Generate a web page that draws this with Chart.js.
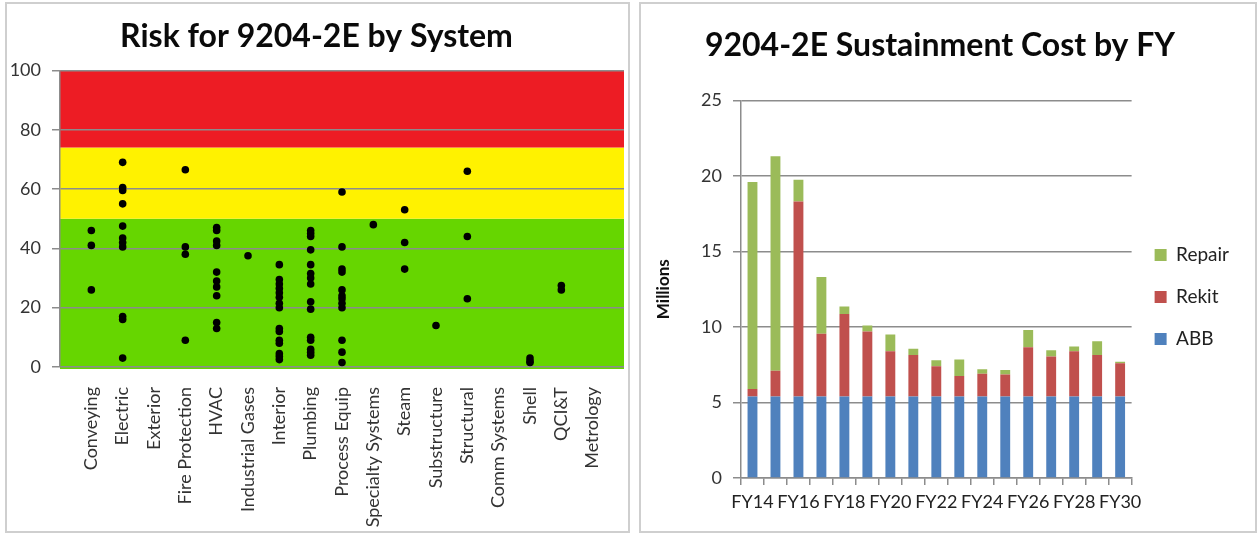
<!DOCTYPE html>
<html>
<head>
<meta charset="utf-8">
<script src="https://cdn.jsdelivr.net/npm/chart.js@4/dist/chart.umd.min.js"></script>
<style>
  body { margin: 0; background: #fff; }
  .panel { position: absolute; border: 2px solid #cfcfcf; box-sizing: border-box; background: #fff; }
  #left { left: 5px; top: 2px; width: 625px; height: 531px; }
  #right { left: 639px; top: 2px; width: 618px; height: 531px; }
</style>
</head>
<body>
<div class="panel" id="left"><canvas id="riskChart"></canvas></div>
<div class="panel" id="right"><canvas id="costChart"></canvas></div>
<script>
// ---- risk chart data ----
const systems = ['Conveying', 'Electric', 'Exterior', 'Fire Protection', 'HVAC', 'Industrial Gases',
  'Interior', 'Plumbing', 'Process Equip', 'Specialty Systems', 'Steam', 'Substructure',
  'Structural', 'Comm Systems', 'Shell', 'QCI&T', 'Metrology'];

const conveying = [46, 41, 26];
const electric = [69, 60.5, 59.5, 55, 47.5, 43.5, 42, 40.5, 17, 16, 3];
const exterior = [];
const fireProtection = [66.5, 40.5, 38, 9];
const hvac = [47, 46, 42.5, 41, 32, 29, 27, 24, 15, 13];
const industrialGases = [37.5];
const interior = [34.5, 29.5, 28, 26.5, 25, 23.5, 21.5, 20, 13, 12, 9, 8, 4.5, 3.5, 2.5];
const plumbing = [46, 45, 44, 39.5, 34.5, 31.5, 30, 28, 22, 19.5, 10, 9, 6, 5, 4];
const processEquip = [59, 40.5, 33, 32, 26, 24, 23, 21.5, 20, 9, 5, 1.5];
const specialtySystems = [48];
const steam = [53, 42, 33];
const substructure = [14];
const structural = [66, 44, 23];
const commSystems = [];
const shell = [3, 2, 1.5];
const qcit = [27.5, 26];
const metrology = [];

const riskValues = [conveying, electric, exterior, fireProtection, hvac, industrialGases, interior,
  plumbing, processEquip, specialtySystems, steam, substructure, structural, commSystems, shell, qcit, metrology];

const riskTicks = [0, 20, 40, 60, 80, 100];
const bandEdges = [0, 50, 74, 100];
const bandColors = ['#66d600', '#fff200', '#ed1c24'];

// ---- cost chart data ----
const fiscalYears = ['FY14', 'FY15', 'FY16', 'FY17', 'FY18', 'FY19', 'FY20', 'FY21', 'FY22',
  'FY23', 'FY24', 'FY25', 'FY26', 'FY27', 'FY28', 'FY29', 'FY30'];
const abb = [5.4, 5.4, 5.4, 5.4, 5.4, 5.4, 5.4, 5.4, 5.4, 5.4, 5.4, 5.4, 5.4, 5.4, 5.4, 5.4, 5.4];
const rekit = [0.5, 1.7, 12.9, 4.15, 5.45, 4.3, 3.0, 2.75, 2.0, 1.35, 1.5, 1.45, 3.25, 2.65, 3.0, 2.75, 2.2];
const repair = [13.7, 14.2, 1.45, 3.75, 0.5, 0.4, 1.1, 0.4, 0.4, 1.1, 0.3, 0.3, 1.15, 0.4, 0.3, 0.9, 0.1];

const FONT = 'Lato, "Open Sans", sans-serif';

// build scatter points, category n sits at x = n + 1
let riskPoints = [];
for (let i = 0; i < riskValues.length; i++) {
  for (let j = 0; j < riskValues[i].length; j++) {
    riskPoints.push({ x: i + 1, y: riskValues[i][j] });
  }
}

// paint the red / yellow / green zones behind the grid
const bandPlugin = {
  id: 'bands',
  beforeDraw(chart) {
    const ctx = chart.ctx;
    const area = chart.chartArea;
    const y = chart.scales.y;
    ctx.save();
    for (let i = 0; i < bandColors.length; i++) {
      const top = y.getPixelForValue(bandEdges[i + 1]);
      const bottom = y.getPixelForValue(bandEdges[i]);
      ctx.fillStyle = bandColors[i];
      ctx.fillRect(area.left, top, area.right - area.left, bottom - top + (i === 0 ? 2 : 0));
    }
    ctx.restore();
  }
};

new Chart(document.getElementById('riskChart'), {
  type: 'scatter',
  data: {
    datasets: [{
      label: 'Risk',
      data: riskPoints,
      backgroundColor: '#000',
      borderWidth: 0,
      pointRadius: 3.8
    }]
  },
  options: {
    responsive: true,
    maintainAspectRatio: false,
    animation: false,
    layout: { padding: { left: 0, right: 2, top: 0, bottom: 0 } },
    plugins: {
      legend: { display: false },
      tooltip: { enabled: false },
      title: {
        display: true,
        text: 'Risk for 9204-2E by System',
        color: '#0a0a0a',
        font: { family: FONT, size: 32, weight: 'bold' },
        padding: { top: 13, bottom: 15 }
      }
    },
    scales: {
      x: {
        type: 'linear',
        min: 0,
        max: systems.length + 1,
        afterBuildTicks: s => { s.ticks = []; for (let i = 0; i <= systems.length + 1; i++) s.ticks.push({ value: i }); },
        afterFit: s => { s.height = 164; s.paddingLeft = 0; s.paddingRight = 0; },
        grid: { display: false },
        border: { display: false },
        ticks: {
          autoSkip: false,
          maxRotation: 90,
          minRotation: 90,
          padding: 12,
          color: '#333',
          font: { family: FONT, size: 18 },
          callback: v => systems[v - 1] || ''
        }
      },
      y: {
        min: 0,
        max: 100,
        afterBuildTicks: s => { s.ticks = riskTicks.map(v => ({ value: v })); },
        afterFit: s => { s.width = 53; },
        grid: { color: '#8c8c8c', lineWidth: 1.5, tickLength: 8 },
        border: { color: '#8c8c8c', width: 1.5 },
        ticks: { color: '#333', padding: 11, font: { family: FONT, size: 18 } }
      }
    }
  },
  plugins: [bandPlugin]
});

new Chart(document.getElementById('costChart'), {
  type: 'bar',
  data: {
    labels: fiscalYears,
    datasets: [
      { label: 'ABB', data: abb, backgroundColor: '#4f81bd' },
      { label: 'Rekit', data: rekit, backgroundColor: '#c0504d' },
      { label: 'Repair', data: repair, backgroundColor: '#9bbb59' }
    ]
  },
  options: {
    responsive: true,
    maintainAspectRatio: false,
    animation: false,
    datasets: { bar: { categoryPercentage: 1, barPercentage: 0.43 } },
    layout: { padding: { left: 0, right: 16, top: 0, bottom: 0 } },
    plugins: {
      tooltip: { enabled: false },
      title: {
        display: true,
        text: '9204-2E Sustainment Cost by FY',
        color: '#0a0a0a',
        font: { family: FONT, size: 32, weight: 'bold' },
        padding: { top: 22, bottom: 36 }
      },
      legend: {
        position: 'right',
        reverse: true,
        title: { display: true, text: '', font: { size: 1 }, padding: 29 },
        labels: {
          boxWidth: 12,
          boxHeight: 12,
          padding: 23,
          color: '#222',
          font: { family: FONT, size: 19 }
        }
      }
    },
    scales: {
      x: {
        stacked: true,
        afterFit: s => { s.height = 53; },
        grid: { drawOnChartArea: false, color: '#8c8c8c', lineWidth: 1.5, tickLength: 7 },
        border: { color: '#8c8c8c', width: 1.5 },
        ticks: {
          autoSkip: false,
          maxRotation: 0,
          padding: 6,
          color: '#222',
          font: { family: FONT, size: 18 },
          callback: (v, i) => (i % 2 === 0 ? fiscalYears[i] : '')
        }
      },
      y: {
        stacked: true,
        min: 0,
        max: 25,
        ticks: { stepSize: 5, color: '#333', padding: 11, font: { family: FONT, size: 18 } },
        afterFit: s => { s.width = 100; },
        grid: { color: '#8c8c8c', lineWidth: 1.5, tickLength: 8 },
        border: { color: '#8c8c8c', width: 1.5 },
        title: {
          display: true,
          text: 'Millions',
          color: '#111',
          font: { family: FONT, size: 17, weight: 'bold' },
          padding: { top: 12, bottom: 20 }
        }
      }
    }
  }
});
</script>
</body>
</html>
